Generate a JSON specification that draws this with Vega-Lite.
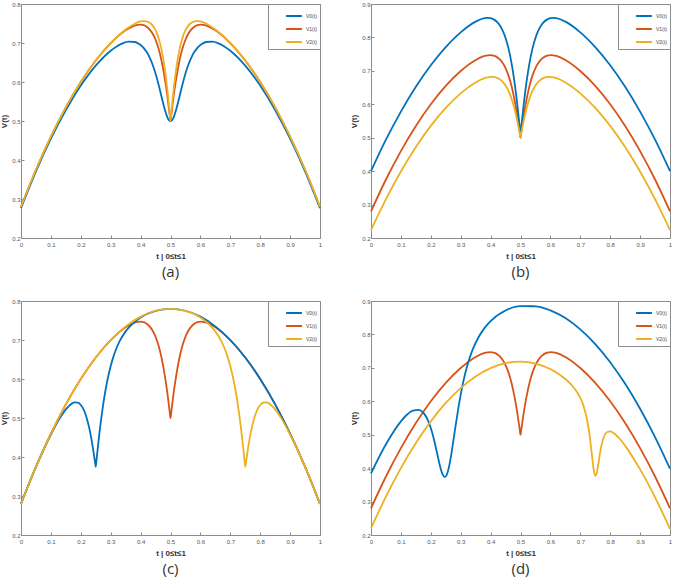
{
"$schema": "https://vega.github.io/schema/vega-lite/v6.json",
"padding": {"left": 0, "top": 0, "right": 0, "bottom": 0},
"data": {"values": [
{"p":"*","s":"V1(t)","t":0,"v":0.28},{"p":"*","s":"V1(t)","t":0.05,"v":0.375},{"p":"*","s":"V1(t)","t":0.1,"v":0.46},{"p":"*","s":"V1(t)","t":0.15,"v":0.535},{"p":"*","s":"V1(t)","t":0.2,"v":0.6},{"p":"*","s":"V1(t)","t":0.25,"v":0.655},{"p":"*","s":"V1(t)","t":0.3,"v":0.6996},{"p":"*","s":"V1(t)","t":0.35,"v":0.7327},{"p":"*","s":"V1(t)","t":0.38,"v":0.7447},{"p":"*","s":"V1(t)","t":0.39,"v":0.7466},{"p":"*","s":"V1(t)","t":0.4,"v":0.7471},{"p":"*","s":"V1(t)","t":0.41,"v":0.7457},{"p":"*","s":"V1(t)","t":0.42,"v":0.7419},{"p":"*","s":"V1(t)","t":0.43,"v":0.7351},{"p":"*","s":"V1(t)","t":0.44,"v":0.7243},{"p":"*","s":"V1(t)","t":0.45,"v":0.7083},{"p":"*","s":"V1(t)","t":0.46,"v":0.6857},{"p":"*","s":"V1(t)","t":0.47,"v":0.6546},{"p":"*","s":"V1(t)","t":0.48,"v":0.613},{"p":"*","s":"V1(t)","t":0.49,"v":0.561},{"p":"*","s":"V1(t)","t":0.495,"v":0.53},{"p":"*","s":"V1(t)","t":0.4975,"v":0.5145},{"p":"*","s":"V1(t)","t":0.5,"v":0.5},{"p":"*","s":"V1(t)","t":0.5025,"v":0.5145},{"p":"*","s":"V1(t)","t":0.505,"v":0.53},{"p":"*","s":"V1(t)","t":0.51,"v":0.561},{"p":"*","s":"V1(t)","t":0.52,"v":0.613},{"p":"*","s":"V1(t)","t":0.53,"v":0.6546},{"p":"*","s":"V1(t)","t":0.54,"v":0.6857},{"p":"*","s":"V1(t)","t":0.55,"v":0.7083},{"p":"*","s":"V1(t)","t":0.56,"v":0.7243},{"p":"*","s":"V1(t)","t":0.57,"v":0.7351},{"p":"*","s":"V1(t)","t":0.58,"v":0.7419},{"p":"*","s":"V1(t)","t":0.59,"v":0.7457},{"p":"*","s":"V1(t)","t":0.6,"v":0.7471},{"p":"*","s":"V1(t)","t":0.61,"v":0.7466},{"p":"*","s":"V1(t)","t":0.62,"v":0.7447},{"p":"*","s":"V1(t)","t":0.65,"v":0.7327},{"p":"*","s":"V1(t)","t":0.7,"v":0.6996},{"p":"*","s":"V1(t)","t":0.75,"v":0.655},{"p":"*","s":"V1(t)","t":0.8,"v":0.6},{"p":"*","s":"V1(t)","t":0.85,"v":0.535},{"p":"*","s":"V1(t)","t":0.9,"v":0.46},{"p":"*","s":"V1(t)","t":0.95,"v":0.375},{"p":"*","s":"V1(t)","t":1,"v":0.28},

{"p":"a","s":"V0(t)","t":0,"v":0.2766},{"p":"a","s":"V0(t)","t":0.05,"v":0.3709},{"p":"a","s":"V0(t)","t":0.1,"v":0.4548},{"p":"a","s":"V0(t)","t":0.15,"v":0.5283},{"p":"a","s":"V0(t)","t":0.2,"v":0.5909},{"p":"a","s":"V0(t)","t":0.25,"v":0.6421},{"p":"a","s":"V0(t)","t":0.3,"v":0.6803},{"p":"a","s":"V0(t)","t":0.32,"v":0.6913},{"p":"a","s":"V0(t)","t":0.34,"v":0.6992},{"p":"a","s":"V0(t)","t":0.36,"v":0.7034},{"p":"a","s":"V0(t)","t":0.38,"v":0.7026},{"p":"a","s":"V0(t)","t":0.39,"v":0.6998},{"p":"a","s":"V0(t)","t":0.4,"v":0.695},{"p":"a","s":"V0(t)","t":0.41,"v":0.6877},{"p":"a","s":"V0(t)","t":0.42,"v":0.6773},{"p":"a","s":"V0(t)","t":0.43,"v":0.6633},{"p":"a","s":"V0(t)","t":0.44,"v":0.645},{"p":"a","s":"V0(t)","t":0.45,"v":0.6217},{"p":"a","s":"V0(t)","t":0.46,"v":0.5937},{"p":"a","s":"V0(t)","t":0.47,"v":0.5624},{"p":"a","s":"V0(t)","t":0.48,"v":0.5319},{"p":"a","s":"V0(t)","t":0.49,"v":0.5088},{"p":"a","s":"V0(t)","t":0.495,"v":0.5023},{"p":"a","s":"V0(t)","t":0.5,"v":0.5},{"p":"a","s":"V0(t)","t":0.505,"v":0.5023},{"p":"a","s":"V0(t)","t":0.51,"v":0.5088},{"p":"a","s":"V0(t)","t":0.52,"v":0.5319},{"p":"a","s":"V0(t)","t":0.53,"v":0.5624},{"p":"a","s":"V0(t)","t":0.54,"v":0.5937},{"p":"a","s":"V0(t)","t":0.55,"v":0.6217},{"p":"a","s":"V0(t)","t":0.56,"v":0.645},{"p":"a","s":"V0(t)","t":0.57,"v":0.6633},{"p":"a","s":"V0(t)","t":0.58,"v":0.6773},{"p":"a","s":"V0(t)","t":0.59,"v":0.6877},{"p":"a","s":"V0(t)","t":0.6,"v":0.695},{"p":"a","s":"V0(t)","t":0.61,"v":0.6998},{"p":"a","s":"V0(t)","t":0.62,"v":0.7026},{"p":"a","s":"V0(t)","t":0.64,"v":0.7034},{"p":"a","s":"V0(t)","t":0.66,"v":0.6992},{"p":"a","s":"V0(t)","t":0.68,"v":0.6913},{"p":"a","s":"V0(t)","t":0.7,"v":0.6803},{"p":"a","s":"V0(t)","t":0.75,"v":0.6421},{"p":"a","s":"V0(t)","t":0.8,"v":0.5909},{"p":"a","s":"V0(t)","t":0.85,"v":0.5283},{"p":"a","s":"V0(t)","t":0.9,"v":0.4548},{"p":"a","s":"V0(t)","t":0.95,"v":0.3709},{"p":"a","s":"V0(t)","t":1,"v":0.2766},

{"p":"a","s":"V2(t)","t":0,"v":0.28},{"p":"a","s":"V2(t)","t":0.05,"v":0.375},{"p":"a","s":"V2(t)","t":0.1,"v":0.46},{"p":"a","s":"V2(t)","t":0.15,"v":0.535},{"p":"a","s":"V2(t)","t":0.2,"v":0.6},{"p":"a","s":"V2(t)","t":0.25,"v":0.655},{"p":"a","s":"V2(t)","t":0.3,"v":0.7},{"p":"a","s":"V2(t)","t":0.35,"v":0.7344},{"p":"a","s":"V2(t)","t":0.38,"v":0.7492},{"p":"a","s":"V2(t)","t":0.4,"v":0.7552},{"p":"a","s":"V2(t)","t":0.41,"v":0.7562},{"p":"a","s":"V2(t)","t":0.42,"v":0.7555},{"p":"a","s":"V2(t)","t":0.43,"v":0.7521},{"p":"a","s":"V2(t)","t":0.44,"v":0.7451},{"p":"a","s":"V2(t)","t":0.45,"v":0.7328},{"p":"a","s":"V2(t)","t":0.46,"v":0.7131},{"p":"a","s":"V2(t)","t":0.47,"v":0.683},{"p":"a","s":"V2(t)","t":0.48,"v":0.6389},{"p":"a","s":"V2(t)","t":0.49,"v":0.5769},{"p":"a","s":"V2(t)","t":0.495,"v":0.539},{"p":"a","s":"V2(t)","t":0.4975,"v":0.519},{"p":"a","s":"V2(t)","t":0.5,"v":0.5},{"p":"a","s":"V2(t)","t":0.5025,"v":0.519},{"p":"a","s":"V2(t)","t":0.505,"v":0.539},{"p":"a","s":"V2(t)","t":0.51,"v":0.5769},{"p":"a","s":"V2(t)","t":0.52,"v":0.6389},{"p":"a","s":"V2(t)","t":0.53,"v":0.683},{"p":"a","s":"V2(t)","t":0.54,"v":0.7131},{"p":"a","s":"V2(t)","t":0.55,"v":0.7328},{"p":"a","s":"V2(t)","t":0.56,"v":0.7451},{"p":"a","s":"V2(t)","t":0.57,"v":0.7521},{"p":"a","s":"V2(t)","t":0.58,"v":0.7555},{"p":"a","s":"V2(t)","t":0.59,"v":0.7562},{"p":"a","s":"V2(t)","t":0.6,"v":0.7552},{"p":"a","s":"V2(t)","t":0.62,"v":0.7492},{"p":"a","s":"V2(t)","t":0.65,"v":0.7344},{"p":"a","s":"V2(t)","t":0.7,"v":0.7},{"p":"a","s":"V2(t)","t":0.75,"v":0.655},{"p":"a","s":"V2(t)","t":0.8,"v":0.6},{"p":"a","s":"V2(t)","t":0.85,"v":0.535},{"p":"a","s":"V2(t)","t":0.9,"v":0.46},{"p":"a","s":"V2(t)","t":0.95,"v":0.375},{"p":"a","s":"V2(t)","t":1,"v":0.28},

{"p":"b","s":"V0(t)","t":0,"v":0.4},{"p":"b","s":"V0(t)","t":0.05,"v":0.494},{"p":"b","s":"V0(t)","t":0.1,"v":0.5782},{"p":"b","s":"V0(t)","t":0.15,"v":0.6524},{"p":"b","s":"V0(t)","t":0.2,"v":0.7168},{"p":"b","s":"V0(t)","t":0.25,"v":0.7711},{"p":"b","s":"V0(t)","t":0.3,"v":0.8153},{"p":"b","s":"V0(t)","t":0.35,"v":0.8473},{"p":"b","s":"V0(t)","t":0.38,"v":0.8575},{"p":"b","s":"V0(t)","t":0.39,"v":0.8584},{"p":"b","s":"V0(t)","t":0.4,"v":0.8575},{"p":"b","s":"V0(t)","t":0.41,"v":0.8541},{"p":"b","s":"V0(t)","t":0.42,"v":0.8476},{"p":"b","s":"V0(t)","t":0.43,"v":0.8371},{"p":"b","s":"V0(t)","t":0.44,"v":0.8213},{"p":"b","s":"V0(t)","t":0.45,"v":0.7985},{"p":"b","s":"V0(t)","t":0.46,"v":0.7666},{"p":"b","s":"V0(t)","t":0.47,"v":0.7234},{"p":"b","s":"V0(t)","t":0.48,"v":0.6663},{"p":"b","s":"V0(t)","t":0.49,"v":0.5933},{"p":"b","s":"V0(t)","t":0.495,"v":0.5516},{"p":"b","s":"V0(t)","t":0.4975,"v":0.53},{"p":"b","s":"V0(t)","t":0.5,"v":0.51},{"p":"b","s":"V0(t)","t":0.5025,"v":0.53},{"p":"b","s":"V0(t)","t":0.505,"v":0.5516},{"p":"b","s":"V0(t)","t":0.51,"v":0.5933},{"p":"b","s":"V0(t)","t":0.52,"v":0.6663},{"p":"b","s":"V0(t)","t":0.53,"v":0.7234},{"p":"b","s":"V0(t)","t":0.54,"v":0.7666},{"p":"b","s":"V0(t)","t":0.55,"v":0.7985},{"p":"b","s":"V0(t)","t":0.56,"v":0.8213},{"p":"b","s":"V0(t)","t":0.57,"v":0.8371},{"p":"b","s":"V0(t)","t":0.58,"v":0.8476},{"p":"b","s":"V0(t)","t":0.59,"v":0.8541},{"p":"b","s":"V0(t)","t":0.6,"v":0.8575},{"p":"b","s":"V0(t)","t":0.61,"v":0.8584},{"p":"b","s":"V0(t)","t":0.62,"v":0.8575},{"p":"b","s":"V0(t)","t":0.65,"v":0.8473},{"p":"b","s":"V0(t)","t":0.7,"v":0.8153},{"p":"b","s":"V0(t)","t":0.75,"v":0.7711},{"p":"b","s":"V0(t)","t":0.8,"v":0.7168},{"p":"b","s":"V0(t)","t":0.85,"v":0.6524},{"p":"b","s":"V0(t)","t":0.9,"v":0.5782},{"p":"b","s":"V0(t)","t":0.95,"v":0.494},{"p":"b","s":"V0(t)","t":1,"v":0.4},

{"p":"b","s":"V2(t)","t":0,"v":0.2235},{"p":"b","s":"V2(t)","t":0.05,"v":0.3161},{"p":"b","s":"V2(t)","t":0.1,"v":0.399},{"p":"b","s":"V2(t)","t":0.15,"v":0.4721},{"p":"b","s":"V2(t)","t":0.2,"v":0.5355},{"p":"b","s":"V2(t)","t":0.25,"v":0.5891},{"p":"b","s":"V2(t)","t":0.3,"v":0.6327},{"p":"b","s":"V2(t)","t":0.35,"v":0.6654},{"p":"b","s":"V2(t)","t":0.38,"v":0.678},{"p":"b","s":"V2(t)","t":0.39,"v":0.6805},{"p":"b","s":"V2(t)","t":0.4,"v":0.6819},{"p":"b","s":"V2(t)","t":0.41,"v":0.6817},{"p":"b","s":"V2(t)","t":0.42,"v":0.6796},{"p":"b","s":"V2(t)","t":0.43,"v":0.6752},{"p":"b","s":"V2(t)","t":0.44,"v":0.6678},{"p":"b","s":"V2(t)","t":0.45,"v":0.6564},{"p":"b","s":"V2(t)","t":0.46,"v":0.6399},{"p":"b","s":"V2(t)","t":0.47,"v":0.617},{"p":"b","s":"V2(t)","t":0.48,"v":0.5865},{"p":"b","s":"V2(t)","t":0.49,"v":0.5472},{"p":"b","s":"V2(t)","t":0.495,"v":0.5246},{"p":"b","s":"V2(t)","t":0.4975,"v":0.5129},{"p":"b","s":"V2(t)","t":0.5,"v":0.502},{"p":"b","s":"V2(t)","t":0.5025,"v":0.5129},{"p":"b","s":"V2(t)","t":0.505,"v":0.5246},{"p":"b","s":"V2(t)","t":0.51,"v":0.5472},{"p":"b","s":"V2(t)","t":0.52,"v":0.5865},{"p":"b","s":"V2(t)","t":0.53,"v":0.617},{"p":"b","s":"V2(t)","t":0.54,"v":0.6399},{"p":"b","s":"V2(t)","t":0.55,"v":0.6564},{"p":"b","s":"V2(t)","t":0.56,"v":0.6678},{"p":"b","s":"V2(t)","t":0.57,"v":0.6752},{"p":"b","s":"V2(t)","t":0.58,"v":0.6796},{"p":"b","s":"V2(t)","t":0.59,"v":0.6817},{"p":"b","s":"V2(t)","t":0.6,"v":0.6819},{"p":"b","s":"V2(t)","t":0.61,"v":0.6805},{"p":"b","s":"V2(t)","t":0.62,"v":0.678},{"p":"b","s":"V2(t)","t":0.65,"v":0.6654},{"p":"b","s":"V2(t)","t":0.7,"v":0.6327},{"p":"b","s":"V2(t)","t":0.75,"v":0.5891},{"p":"b","s":"V2(t)","t":0.8,"v":0.5355},{"p":"b","s":"V2(t)","t":0.85,"v":0.4721},{"p":"b","s":"V2(t)","t":0.9,"v":0.399},{"p":"b","s":"V2(t)","t":0.95,"v":0.3161},{"p":"b","s":"V2(t)","t":1,"v":0.2235},

{"p":"c","s":"V0(t)","t":0,"v":0.28},{"p":"c","s":"V0(t)","t":0.05,"v":0.3746},{"p":"c","s":"V0(t)","t":0.1,"v":0.4577},{"p":"c","s":"V0(t)","t":0.13,"v":0.4997},{"p":"c","s":"V0(t)","t":0.14,"v":0.5116},{"p":"c","s":"V0(t)","t":0.15,"v":0.5221},{"p":"c","s":"V0(t)","t":0.16,"v":0.5307},{"p":"c","s":"V0(t)","t":0.17,"v":0.5369},{"p":"c","s":"V0(t)","t":0.18,"v":0.5401},{"p":"c","s":"V0(t)","t":0.19,"v":0.5393},{"p":"c","s":"V0(t)","t":0.2,"v":0.5333},{"p":"c","s":"V0(t)","t":0.21,"v":0.5207},{"p":"c","s":"V0(t)","t":0.22,"v":0.4996},{"p":"c","s":"V0(t)","t":0.23,"v":0.4682},{"p":"c","s":"V0(t)","t":0.24,"v":0.4258},{"p":"c","s":"V0(t)","t":0.245,"v":0.3999},{"p":"c","s":"V0(t)","t":0.2475,"v":0.387},{"p":"c","s":"V0(t)","t":0.25,"v":0.375},{"p":"c","s":"V0(t)","t":0.2525,"v":0.392},{"p":"c","s":"V0(t)","t":0.255,"v":0.4099},{"p":"c","s":"V0(t)","t":0.26,"v":0.4458},{"p":"c","s":"V0(t)","t":0.27,"v":0.5082},{"p":"c","s":"V0(t)","t":0.28,"v":0.5596},{"p":"c","s":"V0(t)","t":0.29,"v":0.6007},{"p":"c","s":"V0(t)","t":0.3,"v":0.6333},{"p":"c","s":"V0(t)","t":0.31,"v":0.6593},{"p":"c","s":"V0(t)","t":0.32,"v":0.6801},{"p":"c","s":"V0(t)","t":0.33,"v":0.6969},{"p":"c","s":"V0(t)","t":0.35,"v":0.7221},{"p":"c","s":"V0(t)","t":0.37,"v":0.7397},{"p":"c","s":"V0(t)","t":0.4,"v":0.7577},{"p":"c","s":"V0(t)","t":0.45,"v":0.7746},{"p":"c","s":"V0(t)","t":0.5,"v":0.78},{"p":"c","s":"V0(t)","t":0.55,"v":0.775},{"p":"c","s":"V0(t)","t":0.6,"v":0.76},{"p":"c","s":"V0(t)","t":0.65,"v":0.735},{"p":"c","s":"V0(t)","t":0.7,"v":0.7},{"p":"c","s":"V0(t)","t":0.75,"v":0.655},{"p":"c","s":"V0(t)","t":0.8,"v":0.6},{"p":"c","s":"V0(t)","t":0.85,"v":0.535},{"p":"c","s":"V0(t)","t":0.9,"v":0.46},{"p":"c","s":"V0(t)","t":0.95,"v":0.375},{"p":"c","s":"V0(t)","t":1,"v":0.28},

{"p":"c","s":"V2(t)","t":0,"v":0.28},{"p":"c","s":"V2(t)","t":0.05,"v":0.375},{"p":"c","s":"V2(t)","t":0.1,"v":0.46},{"p":"c","s":"V2(t)","t":0.15,"v":0.535},{"p":"c","s":"V2(t)","t":0.2,"v":0.6},{"p":"c","s":"V2(t)","t":0.25,"v":0.655},{"p":"c","s":"V2(t)","t":0.3,"v":0.7},{"p":"c","s":"V2(t)","t":0.35,"v":0.735},{"p":"c","s":"V2(t)","t":0.4,"v":0.76},{"p":"c","s":"V2(t)","t":0.45,"v":0.775},{"p":"c","s":"V2(t)","t":0.5,"v":0.78},{"p":"c","s":"V2(t)","t":0.55,"v":0.7746},{"p":"c","s":"V2(t)","t":0.6,"v":0.7577},{"p":"c","s":"V2(t)","t":0.63,"v":0.7397},{"p":"c","s":"V2(t)","t":0.65,"v":0.7221},{"p":"c","s":"V2(t)","t":0.67,"v":0.6969},{"p":"c","s":"V2(t)","t":0.68,"v":0.6801},{"p":"c","s":"V2(t)","t":0.69,"v":0.6593},{"p":"c","s":"V2(t)","t":0.7,"v":0.6333},{"p":"c","s":"V2(t)","t":0.71,"v":0.6007},{"p":"c","s":"V2(t)","t":0.72,"v":0.5596},{"p":"c","s":"V2(t)","t":0.73,"v":0.5082},{"p":"c","s":"V2(t)","t":0.74,"v":0.4458},{"p":"c","s":"V2(t)","t":0.745,"v":0.4099},{"p":"c","s":"V2(t)","t":0.7475,"v":0.392},{"p":"c","s":"V2(t)","t":0.75,"v":0.375},{"p":"c","s":"V2(t)","t":0.7525,"v":0.387},{"p":"c","s":"V2(t)","t":0.755,"v":0.3999},{"p":"c","s":"V2(t)","t":0.76,"v":0.4258},{"p":"c","s":"V2(t)","t":0.77,"v":0.4682},{"p":"c","s":"V2(t)","t":0.78,"v":0.4996},{"p":"c","s":"V2(t)","t":0.79,"v":0.5207},{"p":"c","s":"V2(t)","t":0.8,"v":0.5333},{"p":"c","s":"V2(t)","t":0.81,"v":0.5393},{"p":"c","s":"V2(t)","t":0.82,"v":0.5401},{"p":"c","s":"V2(t)","t":0.83,"v":0.5369},{"p":"c","s":"V2(t)","t":0.84,"v":0.5307},{"p":"c","s":"V2(t)","t":0.85,"v":0.5221},{"p":"c","s":"V2(t)","t":0.86,"v":0.5116},{"p":"c","s":"V2(t)","t":0.87,"v":0.4997},{"p":"c","s":"V2(t)","t":0.9,"v":0.4577},{"p":"c","s":"V2(t)","t":0.95,"v":0.3746},{"p":"c","s":"V2(t)","t":1,"v":0.28},

{"p":"d","s":"V0(t)","t":0,"v":0.3846},{"p":"d","s":"V0(t)","t":0.05,"v":0.4715},{"p":"d","s":"V0(t)","t":0.1,"v":0.54},{"p":"d","s":"V0(t)","t":0.12,"v":0.5597},{"p":"d","s":"V0(t)","t":0.14,"v":0.5723},{"p":"d","s":"V0(t)","t":0.16,"v":0.5745},{"p":"d","s":"V0(t)","t":0.17,"v":0.5698},{"p":"d","s":"V0(t)","t":0.18,"v":0.5601},{"p":"d","s":"V0(t)","t":0.19,"v":0.5439},{"p":"d","s":"V0(t)","t":0.2,"v":0.52},{"p":"d","s":"V0(t)","t":0.21,"v":0.4879},{"p":"d","s":"V0(t)","t":0.22,"v":0.4491},{"p":"d","s":"V0(t)","t":0.23,"v":0.4094},{"p":"d","s":"V0(t)","t":0.24,"v":0.3802},{"p":"d","s":"V0(t)","t":0.245,"v":0.3739},{"p":"d","s":"V0(t)","t":0.25,"v":0.375},{"p":"d","s":"V0(t)","t":0.255,"v":0.3839},{"p":"d","s":"V0(t)","t":0.26,"v":0.4002},{"p":"d","s":"V0(t)","t":0.27,"v":0.4494},{"p":"d","s":"V0(t)","t":0.28,"v":0.5091},{"p":"d","s":"V0(t)","t":0.29,"v":0.5679},{"p":"d","s":"V0(t)","t":0.3,"v":0.62},{"p":"d","s":"V0(t)","t":0.31,"v":0.6639},{"p":"d","s":"V0(t)","t":0.32,"v":0.7001},{"p":"d","s":"V0(t)","t":0.33,"v":0.7298},{"p":"d","s":"V0(t)","t":0.34,"v":0.7545},{"p":"d","s":"V0(t)","t":0.36,"v":0.7923},{"p":"d","s":"V0(t)","t":0.38,"v":0.8197},{"p":"d","s":"V0(t)","t":0.4,"v":0.84},{"p":"d","s":"V0(t)","t":0.45,"v":0.8715},{"p":"d","s":"V0(t)","t":0.5,"v":0.8846},{"p":"d","s":"V0(t)","t":0.55,"v":0.8842},{"p":"d","s":"V0(t)","t":0.6,"v":0.872},{"p":"d","s":"V0(t)","t":0.65,"v":0.8488},{"p":"d","s":"V0(t)","t":0.7,"v":0.8151},{"p":"d","s":"V0(t)","t":0.75,"v":0.771},{"p":"d","s":"V0(t)","t":0.8,"v":0.7167},{"p":"d","s":"V0(t)","t":0.85,"v":0.6522},{"p":"d","s":"V0(t)","t":0.9,"v":0.5776},{"p":"d","s":"V0(t)","t":0.95,"v":0.493},{"p":"d","s":"V0(t)","t":1,"v":0.3982},

{"p":"d","s":"V2(t)","t":0,"v":0.2198},{"p":"d","s":"V2(t)","t":0.05,"v":0.315},{"p":"d","s":"V2(t)","t":0.1,"v":0.4},{"p":"d","s":"V2(t)","t":0.15,"v":0.475},{"p":"d","s":"V2(t)","t":0.2,"v":0.54},{"p":"d","s":"V2(t)","t":0.25,"v":0.595},{"p":"d","s":"V2(t)","t":0.3,"v":0.6396},{"p":"d","s":"V2(t)","t":0.35,"v":0.6745},{"p":"d","s":"V2(t)","t":0.4,"v":0.6993},{"p":"d","s":"V2(t)","t":0.45,"v":0.714},{"p":"d","s":"V2(t)","t":0.5,"v":0.7186},{"p":"d","s":"V2(t)","t":0.55,"v":0.7128},{"p":"d","s":"V2(t)","t":0.6,"v":0.6962},{"p":"d","s":"V2(t)","t":0.62,"v":0.6862},{"p":"d","s":"V2(t)","t":0.65,"v":0.6666},{"p":"d","s":"V2(t)","t":0.67,"v":0.6494},{"p":"d","s":"V2(t)","t":0.69,"v":0.626},{"p":"d","s":"V2(t)","t":0.7,"v":0.6099},{"p":"d","s":"V2(t)","t":0.71,"v":0.5882},{"p":"d","s":"V2(t)","t":0.72,"v":0.5561},{"p":"d","s":"V2(t)","t":0.73,"v":0.5052},{"p":"d","s":"V2(t)","t":0.735,"v":0.47},{"p":"d","s":"V2(t)","t":0.74,"v":0.4304},{"p":"d","s":"V2(t)","t":0.745,"v":0.3947},{"p":"d","s":"V2(t)","t":0.75,"v":0.377},{"p":"d","s":"V2(t)","t":0.755,"v":0.3847},{"p":"d","s":"V2(t)","t":0.76,"v":0.4104},{"p":"d","s":"V2(t)","t":0.765,"v":0.44},{"p":"d","s":"V2(t)","t":0.77,"v":0.4652},{"p":"d","s":"V2(t)","t":0.78,"v":0.4961},{"p":"d","s":"V2(t)","t":0.79,"v":0.5082},{"p":"d","s":"V2(t)","t":0.8,"v":0.5099},{"p":"d","s":"V2(t)","t":0.81,"v":0.506},{"p":"d","s":"V2(t)","t":0.83,"v":0.4894},{"p":"d","s":"V2(t)","t":0.85,"v":0.4666},{"p":"d","s":"V2(t)","t":0.9,"v":0.3962},{"p":"d","s":"V2(t)","t":0.95,"v":0.3128},{"p":"d","s":"V2(t)","t":1,"v":0.2186}
]},
"columns": 2,
"spacing": {"row": 16, "column": 25},
"resolve": {"scale": {"color": "independent"}, "legend": {"color": "independent"}},
"concat": [
{"width": 299, "height": 234, "title": {"text": "(a)"},
 "transform": [{"filter": "datum.p == 'a' || datum.p == '*'"}],
 "mark": {"type": "line", "interpolate": "monotone", "strokeWidth": 1.8},
 "encoding": {
  "x": {"field": "t", "type": "quantitative", "scale": {"domain": [0, 1], "nice": false}, "axis": {"title": "t | 0≤t≤1", "values": [0,0.1,0.2,0.3,0.4,0.5,0.6,0.7,0.8,0.9,1], "format": "~g", "labelFlush": false}},
  "y": {"field": "v", "type": "quantitative", "scale": {"domain": [0.2, 0.8], "nice": false, "zero": false}, "axis": {"title": "V(t)", "values": [0.2,0.3,0.4,0.5,0.6,0.7,0.8], "format": "~g"}},
  "color": {"field": "s", "type": "nominal", "scale": {"domain": ["V0(t)", "V1(t)", "V2(t)"], "range": ["#0072BD", "#D95319", "#EDB120"]}, "legend": {"title": null}}
 }},
{"width": 299, "height": 234, "title": {"text": "(b)"},
 "transform": [{"filter": "datum.p == 'b' || datum.p == '*'"}],
 "mark": {"type": "line", "interpolate": "monotone", "strokeWidth": 1.8},
 "encoding": {
  "x": {"field": "t", "type": "quantitative", "scale": {"domain": [0, 1], "nice": false}, "axis": {"title": "t | 0≤t≤1", "values": [0,0.1,0.2,0.3,0.4,0.5,0.6,0.7,0.8,0.9,1], "format": "~g", "labelFlush": false}},
  "y": {"field": "v", "type": "quantitative", "scale": {"domain": [0.2, 0.9], "nice": false, "zero": false}, "axis": {"title": "V(t)", "values": [0.2,0.3,0.4,0.5,0.6,0.7,0.8,0.9], "format": "~g"}},
  "color": {"field": "s", "type": "nominal", "scale": {"domain": ["V0(t)", "V1(t)", "V2(t)"], "range": ["#0072BD", "#D95319", "#EDB120"]}, "legend": {"title": null}}
 }},
{"width": 299, "height": 234, "title": {"text": "(c)"},
 "transform": [{"filter": "datum.p == 'c' || datum.p == '*'"}],
 "mark": {"type": "line", "interpolate": "monotone", "strokeWidth": 1.8},
 "encoding": {
  "x": {"field": "t", "type": "quantitative", "scale": {"domain": [0, 1], "nice": false}, "axis": {"title": "t | 0≤t≤1", "values": [0,0.1,0.2,0.3,0.4,0.5,0.6,0.7,0.8,0.9,1], "format": "~g", "labelFlush": false}},
  "y": {"field": "v", "type": "quantitative", "scale": {"domain": [0.2, 0.8], "nice": false, "zero": false}, "axis": {"title": "V(t)", "values": [0.2,0.3,0.4,0.5,0.6,0.7,0.8], "format": "~g"}},
  "color": {"field": "s", "type": "nominal", "scale": {"domain": ["V0(t)", "V1(t)", "V2(t)"], "range": ["#0072BD", "#D95319", "#EDB120"]}, "legend": {"title": null}}
 }},
{"width": 299, "height": 234, "title": {"text": "(d)"},
 "transform": [{"filter": "datum.p == 'd' || datum.p == '*'"}],
 "mark": {"type": "line", "interpolate": "monotone", "strokeWidth": 1.8},
 "encoding": {
  "x": {"field": "t", "type": "quantitative", "scale": {"domain": [0, 1], "nice": false}, "axis": {"title": "t | 0≤t≤1", "values": [0,0.1,0.2,0.3,0.4,0.5,0.6,0.7,0.8,0.9,1], "format": "~g", "labelFlush": false}},
  "y": {"field": "v", "type": "quantitative", "scale": {"domain": [0.2, 0.9], "nice": false, "zero": false}, "axis": {"title": "V(t)", "values": [0.2,0.3,0.4,0.5,0.6,0.7,0.8,0.9], "format": "~g"}},
  "color": {"field": "s", "type": "nominal", "scale": {"domain": ["V0(t)", "V1(t)", "V2(t)"], "range": ["#0072BD", "#D95319", "#EDB120"]}, "legend": {"title": null}}
 }}
],
"config": {
 "view": {"stroke": "#8c8c8c", "strokeWidth": 1},
 "axis": {"grid": false, "domainColor": "#8c8c8c", "tickColor": "#8c8c8c", "tickSize": -3, "labelFontSize": 6, "labelColor": "#555555", "labelFont": "Liberation Sans", "titleFont": "Liberation Sans", "titleFontSize": 8, "titleFontWeight": "bold", "titleColor": "#333333"},
 "axisX": {"titlePadding": 5, "labelPadding": 6},
 "axisY": {"titlePadding": 3, "labelPadding": 4},
 "legend": {"orient": "top-right", "offset": 0, "padding": 3, "strokeColor": "#8c8c8c", "fillColor": "white", "symbolType": "stroke", "symbolSize": 250, "symbolStrokeWidth": 2, "labelFontSize": 5, "labelColor": "#444444", "labelFont": "Liberation Sans", "rowPadding": -4, "symbolOffset": 14, "labelOffset": 3},
 "title": {"orient": "bottom", "anchor": "middle", "fontSize": 15, "fontWeight": "normal", "font": "Open Sans", "color": "#333333", "offset": 5}
}
}
